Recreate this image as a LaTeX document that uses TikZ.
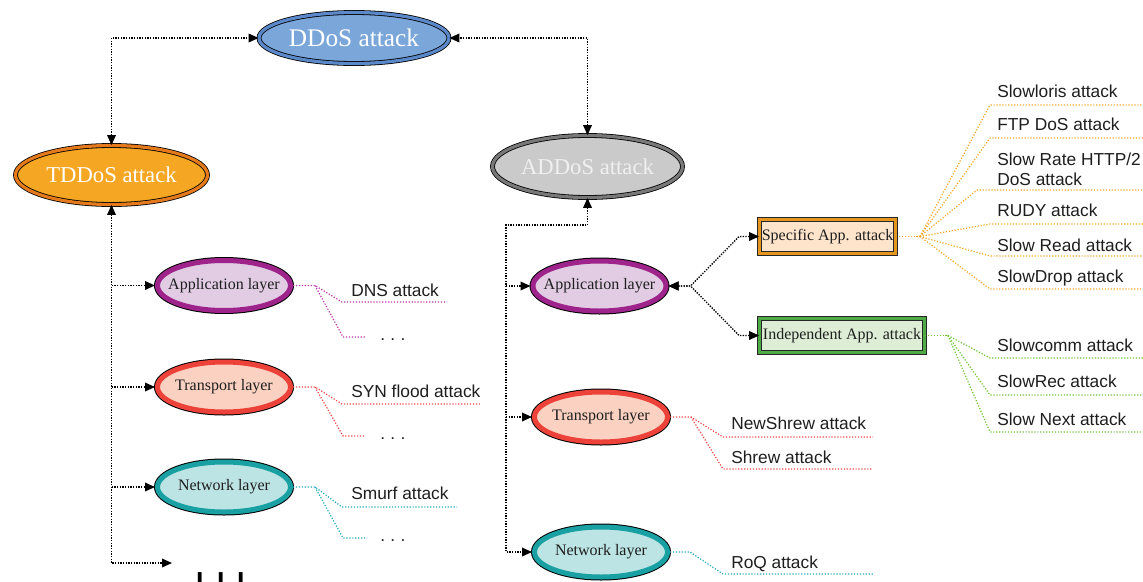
\documentclass[tikz,border=0pt]{standalone}
\usepackage{fontspec}
\setmainfont{Liberation Serif}
\setsansfont{Liberation Sans}
\usetikzlibrary{shapes.geometric,arrows.meta}
\definecolor{ddosfill}{RGB}{122,166,218}
\definecolor{ddosring}{RGB}{90,136,200}
\definecolor{tddosfill}{RGB}{245,166,35}
\definecolor{tddosring}{RGB}{228,122,28}
\definecolor{addosfill}{RGB}{202,202,202}
\definecolor{addosring}{RGB}{120,120,120}
\definecolor{appfill}{RGB}{225,204,228}
\definecolor{appring}{RGB}{158,36,140}
\definecolor{trafill}{RGB}{251,210,193}
\definecolor{traring}{RGB}{236,66,58}
\definecolor{netfill}{RGB}{188,228,228}
\definecolor{netring}{RGB}{24,160,162}
\definecolor{specfill}{RGB}{253,228,202}
\definecolor{specring}{RGB}{228,150,30}
\definecolor{indfill}{RGB}{222,238,214}
\definecolor{indring}{RGB}{78,170,68}
\definecolor{ofan}{RGB}{245,166,35}
\definecolor{gfan}{RGB}{110,195,50}
\definecolor{pfan}{RGB}{190,50,170}
\definecolor{rfan}{RGB}{240,70,70}
\definecolor{tfan}{RGB}{30,170,185}
\definecolor{txt}{RGB}{30,30,30}
\newcommand{\zw}[1]{\makebox[0pt]{#1}}
\begin{document}
\begin{tikzpicture}[x=0.75pt,y=-0.75pt,
  bigell/.style={ellipse, inner sep=0pt, draw=black, line width=0.6pt, double distance=2.4pt,
    text=white, font=\fontsize{17}{17}\selectfont},
  layer/.style={ellipse, inner sep=0pt, minimum width=99.75pt, minimum height=37.5pt,
    line width=3.75pt, preaction={draw=black, line width=5.25pt},
    text=txt, font=\fontsize{12}{12}\selectfont},
  appbox/.style={rectangle, inner sep=0pt, minimum height=25.5pt, draw=black!85, line width=0.6pt,
    double distance=2.4pt, text=txt, font=\fontsize{12}{12}\selectfont},
  conn/.style={draw=black, line width=1pt, densely dotted,
    arrows={-}, >={Triangle[length=7.5pt,width=6.5pt]}},
  fan/.style={line width=0.9pt, dash pattern=on 0.9pt off 1.3pt},
  lab/.style={anchor=base west, inner sep=0pt, text=txt, font=\sffamily\fontsize{13}{15}\selectfont},
  dotsty/.style={anchor=base west, inner sep=0pt, text=black, font=\sffamily\bfseries\fontsize{20}{20}\selectfont}
]
\useasboundingbox (0,0) rectangle (1143,582);

% main nodes
\node[bigell, double=ddosring, fill=ddosfill, minimum width=142.5pt, minimum height=38.25pt,
  font=\fontsize{19}{19}\selectfont] (ddos) at (354,38) {\zw{DDoS attack}};
\node[bigell, double=tddosring, fill=tddosfill, minimum width=144pt, minimum height=44.25pt] (tddos) at (111.5,175) {\zw{TDDoS attack}};
\node[bigell, double=addosring, fill=addosfill, minimum width=142.5pt, minimum height=46.5pt,
  text=white!94!black] (addos) at (587.5,166.5) {\zw{ADDoS attack}};

% layers
\node[layer, draw=appring, fill=appfill] (lapp) at (224,285.5) {\zw{Application layer}};
\node[layer, draw=traring, fill=trafill] (ltra) at (224,387) {\zw{Transport layer}};
\node[layer, draw=netring, fill=netfill] (lnet) at (224,487) {\zw{Network layer}};
\node[layer, draw=appring, fill=appfill] (rapp) at (599.5,286) {\zw{Application layer}};
\node[layer, draw=traring, fill=trafill] (rtra) at (601,417) {\zw{Transport layer}};
\node[layer, draw=netring, fill=netfill] (rnet) at (601,552) {\zw{Network layer}};

% boxes
\node[appbox, double=specring, fill=specfill, minimum width=102pt] (spec) at (827.5,236.5) {Specific App. attack};
\node[appbox, double=indring, fill=indfill, minimum width=123.75pt] (indep) at (842,335.5) {Independent App. attack};

% top connectors
\draw[conn,<->] (tddos.north) |- (ddos.west);
\draw[conn,<->] (addos.north) |- (ddos.east);

% TDDoS tree
\coordinate (lend) at (172,563);
\draw[conn,<->] (tddos.south) |- (lend);
\draw[conn,->] (tddos.south |- lapp.west) -- (lapp.west);
\draw[conn,->] (tddos.south |- ltra.west) -- (ltra.west);
\draw[conn,->] (tddos.south |- lnet.west) -- (lnet.west);
\node[dotsty, yscale=3, transform shape] (more) at (196,584) {.\hspace{10pt}.\hspace{10pt}.};

% ADDoS tree
\coordinate (rbus) at (506,225);
\draw[conn,<->] (addos.south) |- (rbus) -- (rbus |- rnet.west) -- (rnet.west);
\draw[conn,->] (rbus |- rapp.west) -- (rapp.west);
\draw[conn,->] (rbus |- rtra.west) -- (rtra.west);
\draw[conn,<->] (rapp.east) -- ++(22,0) -- ([shift={(-20,0)}]spec.west) -- (spec.west);
\draw[conn,<->] (rapp.east) -- ++(22,0) -- ([shift={(-20,0)}]indep.west) -- (indep.west);

% left fans
\coordinate (dnsA) at (342,302);  \coordinate (dnsB) at (447,302);
\coordinate (ldA) at (343,337);   \coordinate (ldB) at (365,337);
\draw[fan, pfan] (lapp.east) -- ++(22,0) coordinate (lah) -- (dnsA) -- (dnsB);
\draw[fan, pfan] (lah) -- (ldA) -- (ldB);
\node[lab] (dns) at (351,296) {DNS attack};
\node[lab] (ldots1) at (380,340) {.\hspace{4pt}.\hspace{4pt}.};

\coordinate (synA) at (342,404);  \coordinate (synB) at (480,404);
\coordinate (ltA) at (343,436);   \coordinate (ltB) at (365,436);
\draw[fan, rfan] (ltra.east) -- ++(22,0) coordinate (lth) -- (synA) -- (synB);
\draw[fan, rfan] (lth) -- (ltA) -- (ltB);
\node[lab] (syn) at (351,397) {SYN flood attack};
\node[lab] (ldots2) at (380,439) {.\hspace{4pt}.\hspace{4pt}.};

\coordinate (smA) at (342,507);  \coordinate (smB) at (457,507);
\coordinate (lnA) at (343,538);  \coordinate (lnB) at (365,538);
\draw[fan, tfan] (lnet.east) -- ++(22,0) coordinate (lnh) -- (smA) -- (smB);
\draw[fan, tfan] (lnh) -- (lnA) -- (lnB);
\node[lab] (smurf) at (351,499) {Smurf attack};
\node[lab] (ldots3) at (380,541) {.\hspace{4pt}.\hspace{4pt}.};

% right transport / network fans
\coordinate (nsA) at (723,437); \coordinate (nsB) at (873,437);
\coordinate (shA) at (723,469); \coordinate (shB) at (873,469);
\draw[fan, rfan] (rtra.east) -- ++(21,0) coordinate (rth) -- (nsA) -- (nsB);
\draw[fan, rfan] (rth) -- (shA) -- (shB);
\node[lab] (newshrew) at (731,429) {NewShrew attack};
\node[lab] (shrew) at (731,463) {Shrew attack};

\coordinate (roA) at (723,574); \coordinate (roB) at (873,574);
\draw[fan, tfan] (rnet.east) -- ++(20,0) -- (roA) -- (roB);
\node[lab] (roq) at (731,568) {RoQ attack};

% specific app fan
\coordinate (rend) at (1143,0);
\coordinate (o1) at (990,105);
\coordinate (o2) at (990,138);
\coordinate (o3) at (977,190);
\coordinate (o4) at (990,224);
\coordinate (o5) at (990,256);
\coordinate (o6) at (990,289);
\draw[fan, ofan] (spec.east) -- ++(24,0) coordinate (oh);
\foreach \c in {o1,o2,o3,o4,o5,o6} \draw[fan, ofan] (oh) -- (\c) -- (\c -| rend);
\node[lab] (sl) at (997,97) {Slowloris attack};
\node[lab] (ftp) at (997,130) {FTP DoS attack};
\node[lab, align=left] (srh) at (997,185) {Slow Rate HTTP/2\\DoS attack};
\node[lab] (rudy) at (997,216) {RUDY attack};
\node[lab] (sread) at (997,251) {Slow Read attack};
\node[lab] (sdrop) at (997,282) {SlowDrop attack};

% independent app fan
\coordinate (g1) at (990,358);
\coordinate (g2) at (990,395);
\coordinate (g3) at (990,432);
\draw[fan, gfan] (indep.east) -- ++(23,0) coordinate (gh);
\foreach \c in {g1,g2,g3} \draw[fan, gfan] (gh) -- (\c) -- (\c -| rend);
\node[lab] (scomm) at (997,351) {Slowcomm attack};
\node[lab] (srec) at (997,387) {SlowRec attack};
\node[lab] (snext) at (997,425) {Slow Next attack};
\end{tikzpicture}
\end{document}
